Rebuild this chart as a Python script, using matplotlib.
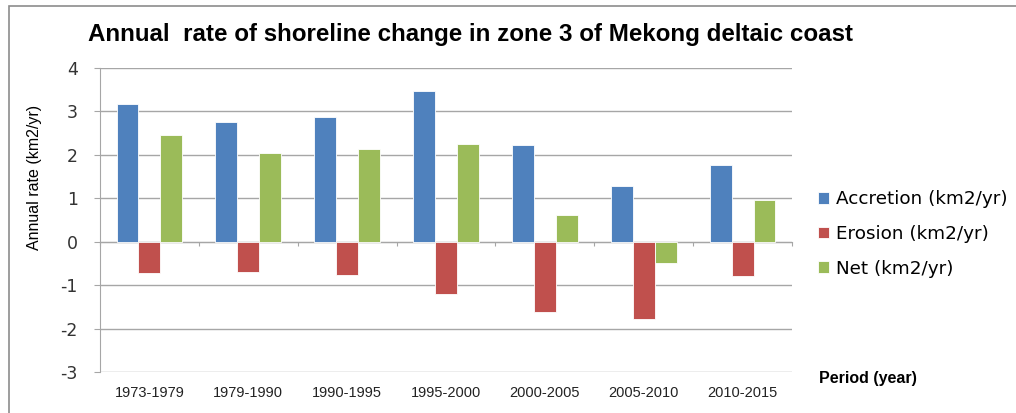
import numpy as np
import matplotlib
matplotlib.use("Agg")
import matplotlib.pyplot as plt
from matplotlib.patches import Rectangle

# values (km2/yr)
periods = ["1973-1979", "1979-1990", "1990-1995", "1995-2000",
           "2000-2005", "2005-2010", "2010-2015"]
accretion = [3.16, 2.76, 2.87, 3.46, 2.23, 1.28, 1.77]
erosion = [-0.71, -0.69, -0.76, -1.20, -1.62, -1.77, -0.80]
net = [2.45, 2.04, 2.14, 2.25, 0.61, -0.49, 0.97]

series_names = ["Accretion (km2/yr)", "Erosion (km2/yr)", "Net (km2/yr)"]
colors = ["#4f81bd", "#c0504d", "#9bbb59"]

plt.rcParams["axes.unicode_minus"] = False
SANS = ["Liberation Sans", "DejaVu Sans"]

fig = plt.figure(figsize=(10.16, 4.13), dpi=100)
ax = fig.add_axes([100 / 1016, 1 - 372 / 413, 692 / 1016, 304 / 413])

x = np.arange(len(periods))
width = 0.222
for i, (vals, name, c) in enumerate(zip([accretion, erosion, net], series_names, colors)):
    ax.bar(x + (i - 1) * width, vals, width, color=c, label=name,
           edgecolor="white", linewidth=0.6, zorder=3)

ax.set_xlim(-0.5, len(periods) - 0.5)
ax.set_ylim(-3, 4)
ax.set_yticks(range(-3, 5))
ax.yaxis.grid(True, color="#a6a6a6", linewidth=1.0, zorder=0)
ax.tick_params(axis="y", length=4, color="#a6a6a6", labelsize=12.5,
               labelcolor="#333333", pad=12)

for s in ["top", "right"]:
    ax.spines[s].set_visible(False)
ax.spines["left"].set_color("#a6a6a6")
ax.spines["bottom"].set_position(("data", 0))
ax.spines["bottom"].set_color("#a6a6a6")
ax.set_xticks(np.arange(len(periods) + 1) - 0.5)
ax.tick_params(axis="x", length=3, color="#a6a6a6", labelbottom=False)

sec = ax.secondary_xaxis(0)
sec.set_xticks(x, periods, fontfamily=SANS, fontsize=10.5, color="#222222")
sec.tick_params(length=0, pad=10)
sec.spines["bottom"].set_visible(False)

ax.set_ylabel("Annual rate (km2/yr)", fontfamily=SANS, fontsize=11.5)
ax.yaxis.set_label_coords(-0.084, 0.64)

fig.text(88 / 1016, 1 - 34 / 413, "Annual  rate of shoreline change in zone 3 of Mekong deltaic coast",
         fontfamily=SANS, fontweight="bold", fontsize=17.4, va="center", ha="left")
fig.text(819 / 1016, 1 - 379 / 413, "Period (year)", fontfamily=SANS,
         fontweight="bold", fontsize=11.5, va="center", ha="left")

ax.legend(loc="center left", bbox_to_anchor=(801 / 1016, 1 - 234 / 413),
          bbox_transform=fig.transFigure, frameon=False, fontsize=13.2,
          handlelength=0.6, handleheight=0.6, handletextpad=0.4, labelspacing=0.9)

fig.patches.append(Rectangle((9 / 1016, -0.05), 1.2, 1.0 - 6 / 413 + 0.05,
                             transform=fig.transFigure, fill=False,
                             edgecolor="#8c8c8c", linewidth=1.2))

fig.savefig("out.png", dpi=100)
